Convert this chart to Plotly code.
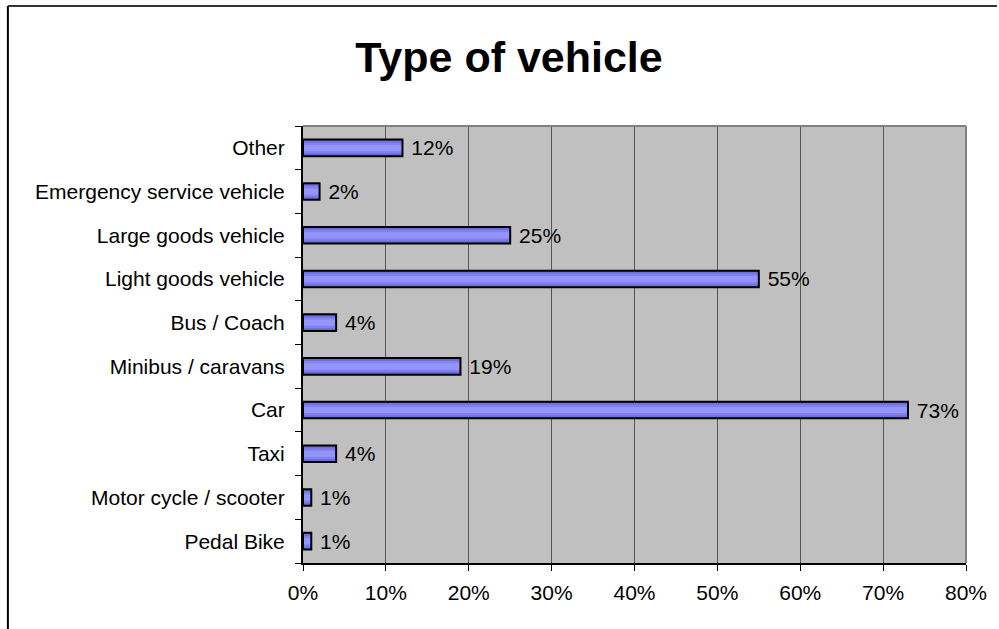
import plotly.graph_objects as go

categories = ["Pedal Bike", "Motor cycle / scooter", "Taxi", "Car", "Minibus / caravans",
              "Bus / Coach", "Light goods vehicle", "Large goods vehicle",
              "Emergency service vehicle", "Other"]
values = [1, 1, 4, 73, 19, 4, 55, 25, 2, 12]
x_ticks = [0, 10, 20, 30, 40, 50, 60, 70, 80]
title_text = "Type of vehicle"

FONT = "Liberation Sans, Arial, sans-serif"
FS = 21
fig = go.Figure()

# gradient imitation: layered bars, darker at edges, lighter at centre
layers = [(0.38, "#5e5ec4"), (0.32, "#7070dc"), (0.24, "#8282ee"), (0.14, "#9494fc")]
for w, c in layers:
    fig.add_trace(go.Bar(y=categories, x=values, orientation="h", width=w,
                         marker=dict(color=c, line=dict(width=0)),
                         hoverinfo="skip", showlegend=False))
# outline + labels
fig.add_trace(go.Bar(y=categories, x=values, orientation="h", width=0.38,
                     marker=dict(color="rgba(0,0,0,0)", line=dict(color="black", width=2)),
                     text=[f" {v}%" for v in values], textposition="outside",
                     constraintext="none",
                     textfont=dict(family=FONT, size=FS, color="black"),
                     cliponaxis=False, showlegend=False))

L, R, T, B = 303, 999 - 968, 126, 629 - 563
pw, ph = 999 - L - R, 629 - T - B

def px(x):
    return (x - L) / pw

def py(y):
    return 1 - (y - T) / ph

fig.update_layout(
    width=999, height=629, barmode="overlay",
    margin=dict(l=L, r=R, t=T, b=B),
    paper_bgcolor="white", plot_bgcolor="#c0c0c0",
    font=dict(family=FONT, size=FS, color="black"),
    title=dict(text=f"<b>{title_text}</b>", x=509 / 999, xref="container", xanchor="center",
               y=1 - 57 / 629, yanchor="middle", yref="container",
               font=dict(family=FONT, size=43, color="black")),
    uniformtext=dict(mode=False),
    shapes=[
        # outer chart border (left, top)
        dict(type="line", xref="paper", yref="paper", x0=px(7), x1=px(7), y0=py(6), y1=py(629), line=dict(color="black", width=2)),
        dict(type="line", xref="paper", yref="paper", x0=px(7), x1=px(999), y0=py(6), y1=py(6), line=dict(color="#333333", width=2)),
        # plot area top & right border
        dict(type="line", xref="paper", yref="paper", x0=0, x1=1, y0=1, y1=1, line=dict(color="#808080", width=2)),
        dict(type="line", xref="paper", yref="paper", x0=1, x1=1, y0=0, y1=1, line=dict(color="#808080", width=2)),
    ],
)
fig.update_xaxes(range=[0, 80], tickvals=x_ticks, ticktext=[f"{t}%" for t in x_ticks],
                 showgrid=True, gridcolor="#555555", gridwidth=1,
                 showline=True, linecolor="black", linewidth=2,
                 ticks="outside", ticklen=6, tickcolor="black", tickwidth=1,
                 tickfont=dict(family=FONT, size=FS), ticklabelstandoff=4,
                 zeroline=False, fixedrange=True)
fig.update_yaxes(categoryorder="array", categoryarray=categories,
                 showgrid=False, showline=True, linecolor="black", linewidth=2,
                 ticks="outside", tickson="boundaries", ticklen=6, tickcolor="black",
                 tickfont=dict(family=FONT, size=FS), ticklabelstandoff=12, fixedrange=True)

fig.write_html("out.html", config={"displayModeBar": False})
